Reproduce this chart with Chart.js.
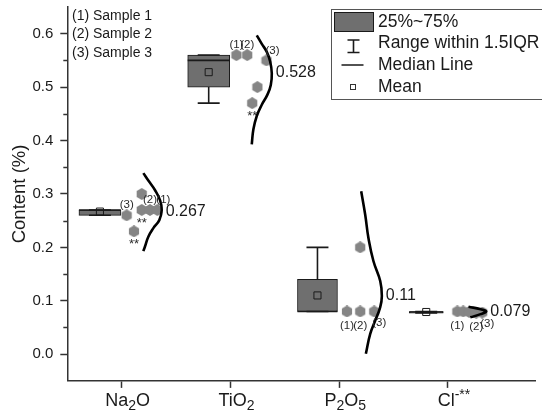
<!DOCTYPE html>
<html>
<head>
<meta charset="utf-8">
<script src="https://cdn.jsdelivr.net/npm/chart.js@4.4.1/dist/chart.umd.min.js"></script>
<style>
html,body{margin:0;padding:0;background:#ffffff;}
#wrap{width:542px;height:416px;position:relative;}
</style>
</head>
<body>
<div id="wrap"><canvas id="c"></canvas></div>
<script>
// ---------------- DATA ----------------
const categories = ['Na_2O', 'TiO_2', 'P_2O_5', 'Cl^-**'];
const yTickValues = [0.0, 0.1, 0.2, 0.3, 0.4, 0.5, 0.6];
const yTickLabels = ['0.0', '0.1', '0.2', '0.3', '0.4', '0.5', '0.6'];

const boxQ1 = [0.26, 0.50, 0.08, 0.077];
const boxQ3 = [0.27, 0.56, 0.14, 0.080];
const medians = [0.27, 0.55, 0.08, 0.079];
const whiskerLow = [0.26, 0.47, 0.08, 0.077];
const whiskerHigh = [0.27, 0.56, 0.20, 0.080];
const means = [0.267, 0.528, 0.11, 0.079];
const meanLabels = ['0.267', '0.528', '0.11', '0.079'];

const naPoints = [0.27, 0.27, 0.27, 0.26, 0.30, 0.23];
const tiPoints = [0.56, 0.56, 0.55, 0.50, 0.47];
const pPoints = [0.08, 0.08, 0.08, 0.20];
const clPoints = [0.080, 0.080, 0.079, 0.078, 0.078];

const naTags = ['**', '(2)', '(1)', '(3)', '', '**'];
const tiTags = ['(1)', '(2)', '(3)', '', '**'];
const pTags = ['(1)', '(2)', '(3)', ''];
const clTags = ['(1)', '', '', '(2)', '(3)'];

// normal-curve outlines (value, horizontal position)
const naCurveY = [0.339, 0.325, 0.307, 0.288, 0.270, 0.251, 0.236, 0.220, 0.202, 0.193];
const naCurveX = [1.199, 1.245, 1.307, 1.353, 1.368, 1.346, 1.291, 1.245, 1.215, 1.199];
const tiCurveY = [0.597, 0.581, 0.566, 0.548, 0.526, 0.504, 0.486, 0.467, 0.446, 0.421, 0.393];
const tiCurveX = [2.242, 2.288, 2.334, 2.365, 2.380, 2.371, 2.340, 2.288, 2.242, 2.211, 2.196];
const pCurveY = [0.305, 0.261, 0.217, 0.174, 0.137, 0.109, 0.088, 0.063, 0.038, 0.001];
const pCurveX = [3.202, 3.239, 3.269, 3.315, 3.377, 3.392, 3.377, 3.331, 3.285, 3.245];
const clCurveY = [0.089, 0.084, 0.080, 0.075, 0.069];
const clCurveX = [4.189, 4.300, 4.352, 4.300, 4.205];

const sampleLegend = ['(1) Sample 1', '(2) Sample 2', '(3) Sample 3'];
const boxLegend = ['25%~75%', 'Range within 1.5IQR', 'Median Line', 'Mean'];
const yTitle = 'Content (%)';

// ---------------- POSITIONS / STYLES ----------------
const naJitter = [0.184, 0.260, 0.328, 0.046, 0.184, 0.113];
const tiJitter = [0.055, 0.154, 0.331, 0.248, 0.200];
const pJitter = [0.071, 0.193, 0.322, 0.193];
const clJitter = [0.086, 0.140, 0.195, 0.260, 0.315];
const naPlace = ['s', 'n', 'ne', 'n', '', 's'];
const tiPlace = ['n', 'n', 'ne', '', 's'];
const pPlace = ['s', 's', 'se', ''];
const clPlace = ['s', '', '', 's', 'se'];

const FONT = "'Liberation Sans', Arial, Helvetica, sans-serif";
const INK = '#1a1a1a';
const AXIS = '#333333';
const BOX_FILL = '#6f6f6f';
const PT_FILL = '#858585';
const BOX_OFFSET = -0.2;
const UNIT_PX = 108.77;
const BOX_HALF = [0.193, 0.193, 0.184, 0.156];
const CAP_HALF = 0.101;

Chart.defaults.font.family = FONT;
Chart.defaults.color = INK;

function makeHex(d, color) {
  const c = document.createElement('canvas');
  c.width = d; c.height = d;
  const g = c.getContext('2d');
  g.fillStyle = color;
  g.beginPath();
  const r = d / 2;
  for (let k = 0; k < 6; k++) {
    const a = Math.PI / 2 + k * Math.PI / 3;
    const px = r + r * 0.98 * Math.cos(a), py = r + r * 0.98 * Math.sin(a);
    if (k) g.lineTo(px, py); else g.moveTo(px, py);
  }
  g.closePath(); g.fill();
  return c;
}
const hex = makeHex(12, PT_FILL);

const pointSets = [naPoints, tiPoints, pPoints, clPoints];
const jitters = [naJitter, tiJitter, pJitter, clJitter];
const tagSets = [naTags, tiTags, pTags, clTags];
const placeSets = [naPlace, tiPlace, pPlace, clPlace];
const curveYs = [naCurveY, tiCurveY, pCurveY, clCurveY];
const curveXs = [naCurveX, tiCurveX, pCurveX, clCurveX];

const datasets = [];
const whiskerData = [], medianData = [], meanData = [];
categories.forEach((cat, i) => {
  const cx = i + 1 + BOX_OFFSET;
  datasets.push({
    type: 'bar', data: [{x: cx, y: [boxQ1[i], boxQ3[i]]}],
    barThickness: Math.round(BOX_HALF[i] * 2 * UNIT_PX), grouped: false,
    backgroundColor: BOX_FILL, borderColor: INK, borderWidth: 1, borderSkipped: false, order: 10
  });
  whiskerData.push({x: cx, y: boxQ3[i]}, {x: cx, y: whiskerHigh[i]}, {x: cx, y: null});
  whiskerData.push({x: cx - CAP_HALF, y: whiskerHigh[i]}, {x: cx + CAP_HALF, y: whiskerHigh[i]}, {x: cx, y: null});
  whiskerData.push({x: cx, y: boxQ1[i]}, {x: cx, y: whiskerLow[i]}, {x: cx, y: null});
  whiskerData.push({x: cx - CAP_HALF, y: whiskerLow[i]}, {x: cx + CAP_HALF, y: whiskerLow[i]}, {x: cx, y: null});
  medianData.push({x: cx - BOX_HALF[i], y: medians[i]}, {x: cx + BOX_HALF[i], y: medians[i]}, {x: cx, y: null});
  meanData.push({x: cx, y: means[i]});

  datasets.push({
    type: 'scatter', data: pointSets[i].map((v, j) => ({x: i + 1 + jitters[i][j], y: v})),
    pointStyle: hex, pointRadius: 6, showLine: false, order: 3,
    tags: tagSets[i], places: placeSets[i]
  });
  datasets.push({
    type: 'scatter', showLine: true, data: curveYs[i].map((y, j) => ({x: curveXs[i][j], y: y})),
    borderColor: '#000000', borderWidth: 2.6, tension: 0.45, pointRadius: 0, fill: false, order: 1
  });
});
datasets.push({type: 'scatter', showLine: true, spanGaps: false, data: whiskerData,
  borderColor: INK, borderWidth: 1.6, pointRadius: 0, tension: 0, order: 8});
datasets.push({type: 'scatter', showLine: true, spanGaps: false, data: medianData,
  borderColor: INK, borderWidth: 1.6, pointRadius: 0, tension: 0, order: 7});
datasets.push({type: 'scatter', data: meanData, pointStyle: 'rect', pointRadius: 5,
  backgroundColor: 'rgba(0,0,0,0)', borderColor: INK, borderWidth: 1, order: 6});

function parseLabel(s) {
  const segs = []; let i = 0;
  while (i < s.length) {
    const c = s[i];
    if (c === '_') { segs.push({t: s[i + 1], m: 'sub'}); i += 2; }
    else if (c === '^') { segs.push({t: s.slice(i + 1), m: 'sup'}); break; }
    else {
      let j = i;
      while (j < s.length && s[j] !== '_' && s[j] !== '^') j++;
      segs.push({t: s.slice(i, j), m: 'n'}); i = j;
    }
  }
  return segs;
}

const TAG_OFF = {n: [0, -10], ne: [6, -10], s: [0, 14], se: [5, 11]};

const annot = {
  id: 'annot',
  afterDatasetsDraw(chart) {
    const ctx = chart.ctx, xs = chart.scales.x, ys = chart.scales.y;
    ctx.save();
    // minor y ticks
    ctx.strokeStyle = AXIS; ctx.lineWidth = 1.5;
    for (let k = 0; k < yTickValues.length - 1; k++) {
      const v = (yTickValues[k] + yTickValues[k + 1]) / 2;
      const py = Math.round(ys.getPixelForValue(v)) + 0.5;
      ctx.beginPath(); ctx.moveTo(ys.right - 4, py); ctx.lineTo(ys.right, py); ctx.stroke();
    }
    // point tags
    chart.data.datasets.forEach((ds, di) => {
      if (!ds.tags) return;
      const meta = chart.getDatasetMeta(di);
      ds.tags.forEach((t, j) => {
        if (!t) return;
        const el = meta.data[j];
        const off = TAG_OFF[ds.places[j]] || [0, 0];
        ctx.fillStyle = '#2a2a2a';
        ctx.textAlign = 'center';
        if (t === '**') {
          ctx.font = '13px ' + FONT; ctx.textBaseline = 'alphabetic';
          ctx.fillText(t, el.x + off[0], el.y + (off[1] > 0 ? 17 : -4));
        } else {
          ctx.font = '11.5px ' + FONT; ctx.textBaseline = 'middle';
          ctx.fillText(t, el.x + off[0], el.y + off[1]);
        }
      });
    });
    // mean value labels
    ctx.font = '16px ' + FONT; ctx.fillStyle = INK; ctx.textAlign = 'left'; ctx.textBaseline = 'middle';
    meanLabels.forEach((lab, i) => {
      const px = xs.getPixelForValue(Math.max(...curveXs[i])) + 4;
      ctx.fillText(lab, px, ys.getPixelForValue(means[i]));
    });
    // category labels with sub/superscripts
    categories.forEach((lab, i) => {
      const segs = parseLabel(lab);
      let total = 0;
      segs.forEach(s => { ctx.font = (s.m === 'n' ? '18px ' : '14px ') + FONT; s.w = ctx.measureText(s.t).width; total += s.w; });
      let x = xs.getPixelForValue(i + 1) + 6 - total / 2;
      const base = 406;
      ctx.textAlign = 'left'; ctx.textBaseline = 'alphabetic'; ctx.fillStyle = INK;
      segs.forEach(s => {
        ctx.font = (s.m === 'n' ? '18px ' : '14px ') + FONT;
        const by = s.m === 'sub' ? base + 4 : (s.m === 'sup' ? base - 7 : base);
        ctx.fillText(s.t, x, by); x += s.w;
      });
    });
    // sample legend (top-left)
    ctx.font = '14px ' + FONT; ctx.textAlign = 'left'; ctx.textBaseline = 'middle'; ctx.fillStyle = INK;
    sampleLegend.forEach((t, k) => ctx.fillText(t, 72, 16 + k * 18.6));
    // box legend (top-right)
    ctx.strokeStyle = '#555555'; ctx.lineWidth = 1;
    ctx.strokeRect(331.5, 9.5, 230, 90);
    ctx.fillStyle = BOX_FILL; ctx.fillRect(334, 12, 40, 20);
    ctx.strokeStyle = INK; ctx.strokeRect(334.5, 12.5, 39, 19);
    ctx.lineWidth = 1.6;
    ctx.beginPath();
    ctx.moveTo(353.5, 40); ctx.lineTo(353.5, 52.5);
    ctx.moveTo(347.5, 40); ctx.lineTo(359.5, 40);
    ctx.moveTo(347.5, 52.5); ctx.lineTo(359.5, 52.5);
    ctx.moveTo(341.5, 65); ctx.lineTo(363.5, 65);
    ctx.stroke();
    ctx.lineWidth = 1; ctx.strokeStyle = '#333333';
    ctx.strokeRect(350.5, 84.5, 5, 5);
    ctx.font = '17.5px ' + FONT; ctx.fillStyle = INK; ctx.textBaseline = 'middle';
    boxLegend.forEach((t, k) => ctx.fillText(t, 378, 21.7 + k * 21.9));
    ctx.restore();
  }
};

new Chart(document.getElementById('c'), {
  type: 'scatter',
  data: {datasets: datasets},
  options: {
    responsive: true, maintainAspectRatio: false, animation: false, events: [],
    layout: {padding: {top: 4.8, right: 7, bottom: 0, left: 0}},
    plugins: {legend: {display: false}, tooltip: {enabled: false}},
    scales: {
      x: {
        type: 'linear', min: 0.5, max: 4.8, offset: false,
        afterBuildTicks: s => { s.ticks = categories.map((c, i) => ({value: i + 1})); },
        afterFit: s => { s.height = 35.1; s.paddingLeft = 0; s.paddingRight = 0; },
        ticks: {display: false},
        grid: {offset: false, drawOnChartArea: false, drawTicks: true, tickLength: 7, tickColor: AXIS, tickWidth: 1.5},
        border: {display: true, color: AXIS, width: 1.5}
      },
      y: {
        type: 'linear', min: -0.05, max: 0.65, beginAtZero: false,
        afterBuildTicks: s => { s.ticks = yTickValues.map(v => ({value: v})); },
        afterFit: s => { s.width = 67.3; s.paddingTop = 0; s.paddingBottom = 0; },
        ticks: {font: {size: 15}, color: INK, padding: 7,
          callback: (v) => yTickLabels[yTickValues.findIndex(t => Math.abs(t - v) < 1e-9)]},
        grid: {drawOnChartArea: false, drawTicks: true, tickLength: 7, tickColor: AXIS, tickWidth: 1.5},
        border: {display: true, color: AXIS, width: 1.5},
        title: {display: true, text: yTitle, font: {size: 18.5}, color: INK, padding: {top: 9, bottom: 0}}
      }
    }
  },
  plugins: [annot]
});
</script>
</body>
</html>
